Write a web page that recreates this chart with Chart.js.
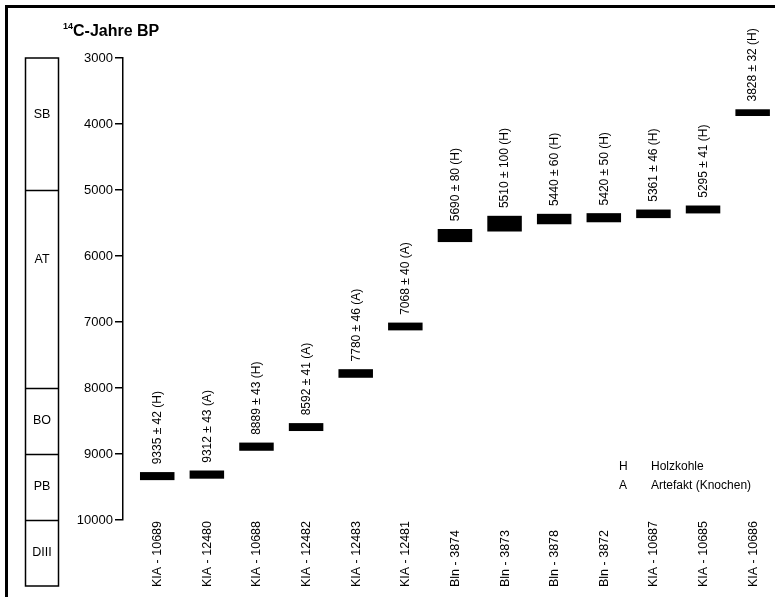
<!DOCTYPE html>
<html>
<head>
<meta charset="utf-8">
<script src="https://cdn.jsdelivr.net/npm/chart.js@4.4.1/dist/chart.umd.min.js"></script>
<style>
  html, body { margin: 0; padding: 0; background: #fff; }
  #wrap { width: 775px; height: 597px; overflow: hidden; }
</style>
</head>
<body>
<div id="wrap"><canvas id="c" width="775" height="597"></canvas></div>
<script>
// Radiocarbon dates (14C years BP) per sample
const sampleIds = ['KIA - 10689', 'KIA - 12480', 'KIA - 10688', 'KIA - 12482', 'KIA - 12483', 'KIA - 12481',
                   'Bln - 3874', 'Bln - 3873', 'Bln - 3878', 'Bln - 3872', 'KIA - 10687', 'KIA - 10685', 'KIA - 10686'];
const ages      = [9335, 9312, 8889, 8592, 7780, 7068, 5690, 5510, 5440, 5420, 5361, 5295, 3828];
const errors    = [42, 43, 43, 41, 46, 40, 80, 100, 60, 50, 46, 41, 32];
const materials = ['H', 'A', 'H', 'A', 'A', 'A', 'H', 'H', 'H', 'H', 'H', 'H', 'H'];

// Age axis ticks
const yTicks = [3000, 4000, 5000, 6000, 7000, 8000, 9000, 10000];

// Pollen zones (boundaries in 14C years BP)
const zoneNames   = ['SB', 'AT', 'BO', 'PB', 'DIII'];
const zoneBounds  = [3000, 5000, 8000, 9000, 10000, 11000];
const zoneLabelAt = [3850, 6050, 8500, 9500, 10500];

// Material key
const keyCodes = ['H', 'A'];
const keyTexts = ['Holzkohle', 'Artefakt (Knochen)'];

const FONT = "Arial, 'Liberation Sans', sans-serif";

const decorations = {
  id: 'decorations',
  afterDraw(chart) {
    const ctx = chart.ctx;
    const y = chart.scales.y;
    const x = chart.scales.x;
    ctx.save();

    // outer frame
    ctx.strokeStyle = '#000';
    ctx.lineWidth = 3;
    ctx.strokeRect(6.5, 6.5, 900, 800);

    // title with superscript
    ctx.fillStyle = '#000';
    ctx.textBaseline = 'alphabetic';
    ctx.textAlign = 'left';
    ctx.font = 'bold 9px ' + FONT;
    ctx.fillText('14', 63, 29);
    ctx.font = 'bold 16px ' + FONT;
    ctx.fillText('C-Jahre BP', 73, 36);

    // zone column
    const zx0 = 25.5, zx1 = 58.5;
    ctx.lineWidth = 1.5;
    const top = y.getPixelForValue(zoneBounds[0]);
    const bot = y.getPixelForValue(zoneBounds[zoneBounds.length - 1]);
    ctx.strokeRect(zx0, top, zx1 - zx0, bot - top);
    ctx.beginPath();
    for (let i = 1; i < zoneBounds.length - 1; i++) {
      const py = Math.round(y.getPixelForValue(zoneBounds[i])) + 0.5;
      ctx.moveTo(zx0, py);
      ctx.lineTo(zx1, py);
    }
    ctx.stroke();
    ctx.font = '12.5px ' + FONT;
    ctx.textAlign = 'center';
    ctx.textBaseline = 'middle';
    zoneNames.forEach((n, i) => {
      ctx.fillText(n, (zx0 + zx1) / 2, y.getPixelForValue(zoneLabelAt[i]));
    });

    // bar outlines, value labels, sample ids
    const meta = chart.getDatasetMeta(0);
    meta.data.forEach((el, i) => {
      const p = el.getProps(['x', 'y', 'base', 'width'], true);
      const t = Math.min(p.y, p.base), b = Math.max(p.y, p.base);
      ctx.lineWidth = 2.5;
      ctx.strokeStyle = '#000';
      ctx.strokeRect(p.x - p.width / 2, t, p.width, b - t);

      ctx.textAlign = 'left';
      ctx.textBaseline = 'middle';
      ctx.font = '12px ' + FONT;
      ctx.save();
      ctx.translate(p.x + 0.5, t - 9);
      ctx.rotate(-Math.PI / 2);
      ctx.fillText(ages[i] + ' \u00b1 ' + errors[i] + ' (' + materials[i] + ')', 0, 0);
      ctx.restore();

      ctx.font = '12.5px ' + FONT;
      ctx.save();
      ctx.translate(x.getPixelForValue(i) + 0.5, 587);
      ctx.rotate(-Math.PI / 2);
      ctx.fillText(sampleIds[i], 0, 0);
      ctx.restore();
    });

    // material key
    ctx.font = '12px ' + FONT;
    ctx.textAlign = 'left';
    ctx.textBaseline = 'middle';
    keyCodes.forEach((c, i) => {
      ctx.fillText(c, 619, 467 + i * 19);
      ctx.fillText(keyTexts[i], 651, 467 + i * 19);
    });

    ctx.restore();
  }
};

new Chart(document.getElementById('c'), {
  type: 'bar',
  data: {
    datasets: [{
      data: ages.map((a, i) => ({ x: i, y: [a - errors[i], a + errors[i]] })),
      backgroundColor: '#000',
      borderWidth: 0,
      barThickness: 32
    }]
  },
  options: {
    responsive: false,
    animation: false,
    devicePixelRatio: 1,
    layout: { padding: { top: 58, bottom: 77, left: 0, right: 2 } },
    plugins: { legend: { display: false }, tooltip: { enabled: false } },
    scales: {
      x: {
        type: 'linear',
        offset: false,
        grid: { offset: false },
        min: -0.69,
        max: 12.41,
        display: false
      },
      y: {
        reverse: true,
        min: 3000,
        max: 10000,
        afterBuildTicks(scale) { scale.ticks = yTicks.map(v => ({ value: v })); },
        afterFit(scale) { scale.width = 123; },
        ticks: {
          color: '#000',
          font: { family: FONT, size: 13, weight: 'normal' },
          padding: 2,
          callback: v => String(v)
        },
        grid: { drawOnChartArea: false, drawTicks: true, tickLength: 8, color: '#000', lineWidth: 1.5 },
        border: { display: true, color: '#000', width: 1.5 }
      }
    }
  },
  plugins: [decorations]
});
</script>
</body>
</html>
